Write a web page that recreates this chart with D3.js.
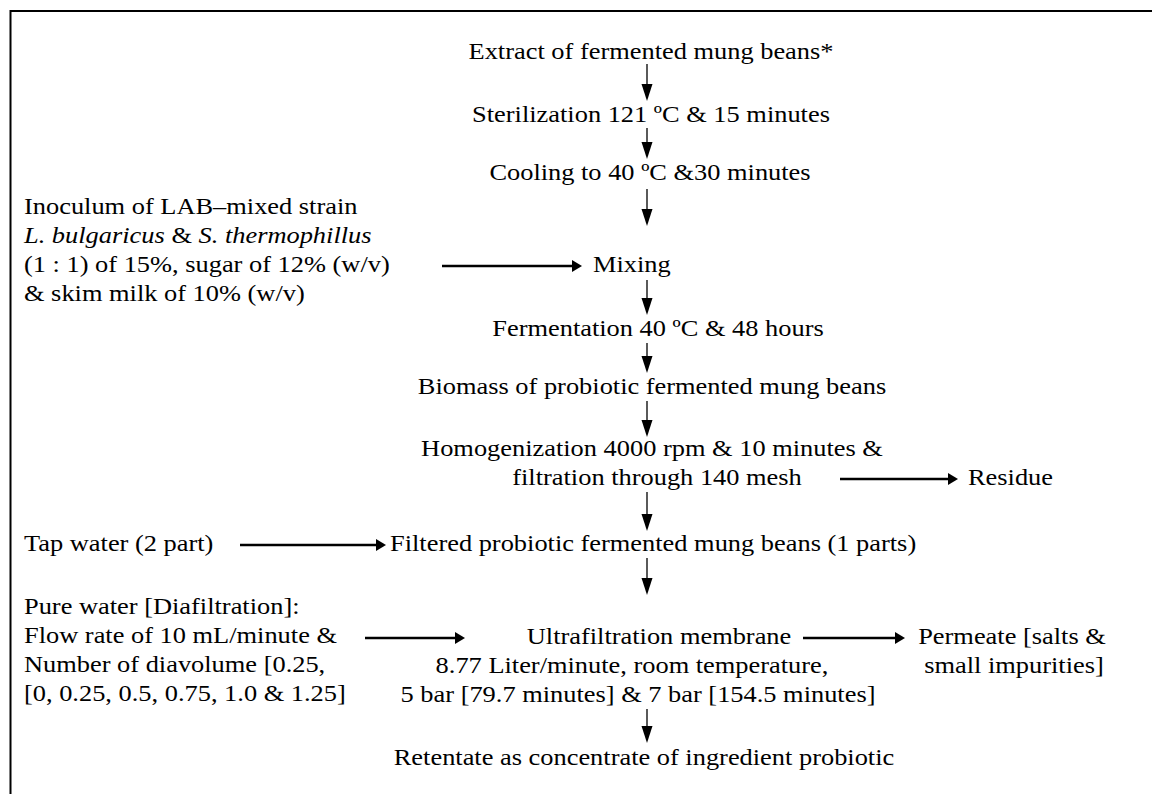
<!DOCTYPE html>
<html>
<head>
<meta charset="utf-8">
<script src="https://cdn.jsdelivr.net/npm/d3@7"></script>
<style>
  body { margin: 0; background: #fff; }
</style>
</head>
<body>
<svg id="chart" width="1152" height="794"></svg>
<script>
// process steps down the centre column
const mainSteps = [
  ["Extract of fermented mung beans*"],
  ["Sterilization 121 ºC & 15 minutes"],
  ["Cooling to 40 ºC &30 minutes"],
  ["Mixing"],
  ["Fermentation 40 ºC & 48 hours"],
  ["Biomass of probiotic fermented mung beans"],
  ["Homogenization 4000 rpm & 10 minutes &", "filtration through 140 mesh"],
  ["Filtered probiotic fermented mung beans (1 parts)"],
  ["Ultrafiltration membrane", "8.77 Liter/minute, room temperature,", "5 bar [79.7 minutes] & 7 bar [154.5 minutes]"],
  ["Retentate as concentrate of ingredient probiotic"]
]

// side inputs (left) - each line is a list of [text, italic]
const inputs = [
  [[["Inoculum of LAB–mixed strain", false]],
   [["L. bulgaricus", true], [" & ", false], ["S. thermophillus", true]],
   [["(1 : 1) of 15%, sugar of 12% (w/v)", false]],
   [["& skim milk of 10% (w/v)", false]]],
  [[["Tap water (2 part)", false]]],
  [[["Pure water [Diafiltration]:", false]],
   [["Flow rate of 10 mL/minute &", false]],
   [["Number of diavolume [0.25,", false]],
   [["[0, 0.25, 0.5, 0.75, 1.0 & 1.25]", false]]]
]

// side outputs (right)
const outputs = [
  ["Residue"],
  ["Permeate [salts &", "small impurities]"]
]

// layout
const lineGap = 29, sx = 1.1
const mainLayout = [
  {x: 651, y: 59, anchor: "middle"},
  {x: 651, y: 122, anchor: "middle"},
  {x: 650, y: 180, anchor: "middle"},
  {x: 593, y: 272, anchor: "start"},
  {x: 658, y: 336, anchor: "middle"},
  {x: 652, y: 394, anchor: "middle"},
  {x: [652, 657], y: 456, anchor: "middle"},
  {x: 390, y: 551, anchor: "start"},
  {x: [659, 632, 638], y: 644, anchor: "middle"},
  {x: 644, y: 765, anchor: "middle"}
]
const inputLayout = [{x: 24, y: 214}, {x: 24, y: 551}, {x: 24, y: 614}]
const outputLayout = [
  {x: 968, y: 485, anchor: "start"},
  {x: [1012, 1014], y: 644, anchor: "middle"}
]
const downArrows = [[64, 101], [128, 159], [189, 226], [280, 315], [343, 373], [401, 437], [492, 531], [558, 595], [709, 743]]
const sideArrows = [[442, 582, 266], [840, 958, 479], [240, 386, 545], [365, 465, 638], [803, 905, 638]]
const arrowX = 647

const svg = d3.select("#chart")

// frame (runs off the right and bottom)
svg.append("path")
  .attr("d", "M10.5,800 V11 H1160")
  .attr("fill", "none")
  .attr("stroke", "#000")
  .attr("stroke-width", 2)

function addLine(g, x, y, anchor) {
  return g.append("text")
    .attr("transform", "translate(" + x + "," + y + ") scale(" + sx + ",1)")
    .attr("text-anchor", anchor)
    .attr("font-family", "Liberation Serif")
    .attr("font-size", 24)
    .attr("fill", "#000")
}

const mainG = svg.append("g")
mainSteps.forEach((lines, i) => {
  const l = mainLayout[i]
  lines.forEach((t, j) => {
    const x = Array.isArray(l.x) ? l.x[j] : l.x
    addLine(mainG, x, l.y + j * lineGap, l.anchor).text(t)
  })
})

const inG = svg.append("g")
inputs.forEach((lines, i) => {
  const l = inputLayout[i]
  lines.forEach((parts, j) => {
    const txt = addLine(inG, l.x, l.y + j * lineGap, "start")
    parts.forEach(p => {
      txt.append("tspan").text(p[0]).attr("font-style", p[1] ? "italic" : "normal")
    })
  })
})

const outG = svg.append("g")
outputs.forEach((lines, i) => {
  const l = outputLayout[i]
  lines.forEach((t, j) => {
    const x = Array.isArray(l.x) ? l.x[j] : l.x
    addLine(outG, x, l.y + j * lineGap, l.anchor).text(t)
  })
})

// arrows
const arrowG = svg.append("g")
arrowG.selectAll(".down")
  .data(downArrows)
  .enter()
  .append("g")
  .each(function(d) {
    const g = d3.select(this)
    g.append("line")
      .attr("x1", arrowX).attr("x2", arrowX)
      .attr("y1", d[0]).attr("y2", d[1] - 12)
      .attr("stroke", "#000").attr("stroke-width", 1.3)
    g.append("path")
      .attr("d", "M" + (arrowX - 5.5) + "," + (d[1] - 17) + " L" + (arrowX + 5.5) + "," + (d[1] - 17) + " L" + arrowX + "," + d[1] + " Z")
      .attr("fill", "#000")
  })

arrowG.selectAll(".side")
  .data(sideArrows)
  .enter()
  .append("g")
  .each(function(d) {
    const g = d3.select(this)
    g.append("line")
      .attr("x1", d[0]).attr("x2", d[1] - 8)
      .attr("y1", d[2]).attr("y2", d[2])
      .attr("stroke", "#000").attr("stroke-width", 2.4)
    g.append("path")
      .attr("d", "M" + (d[1] - 10) + "," + (d[2] - 6) + " L" + d[1] + "," + d[2] + " L" + (d[1] - 10) + "," + (d[2] + 6) + " Z")
      .attr("fill", "#000")
  })
</script>
</body>
</html>
